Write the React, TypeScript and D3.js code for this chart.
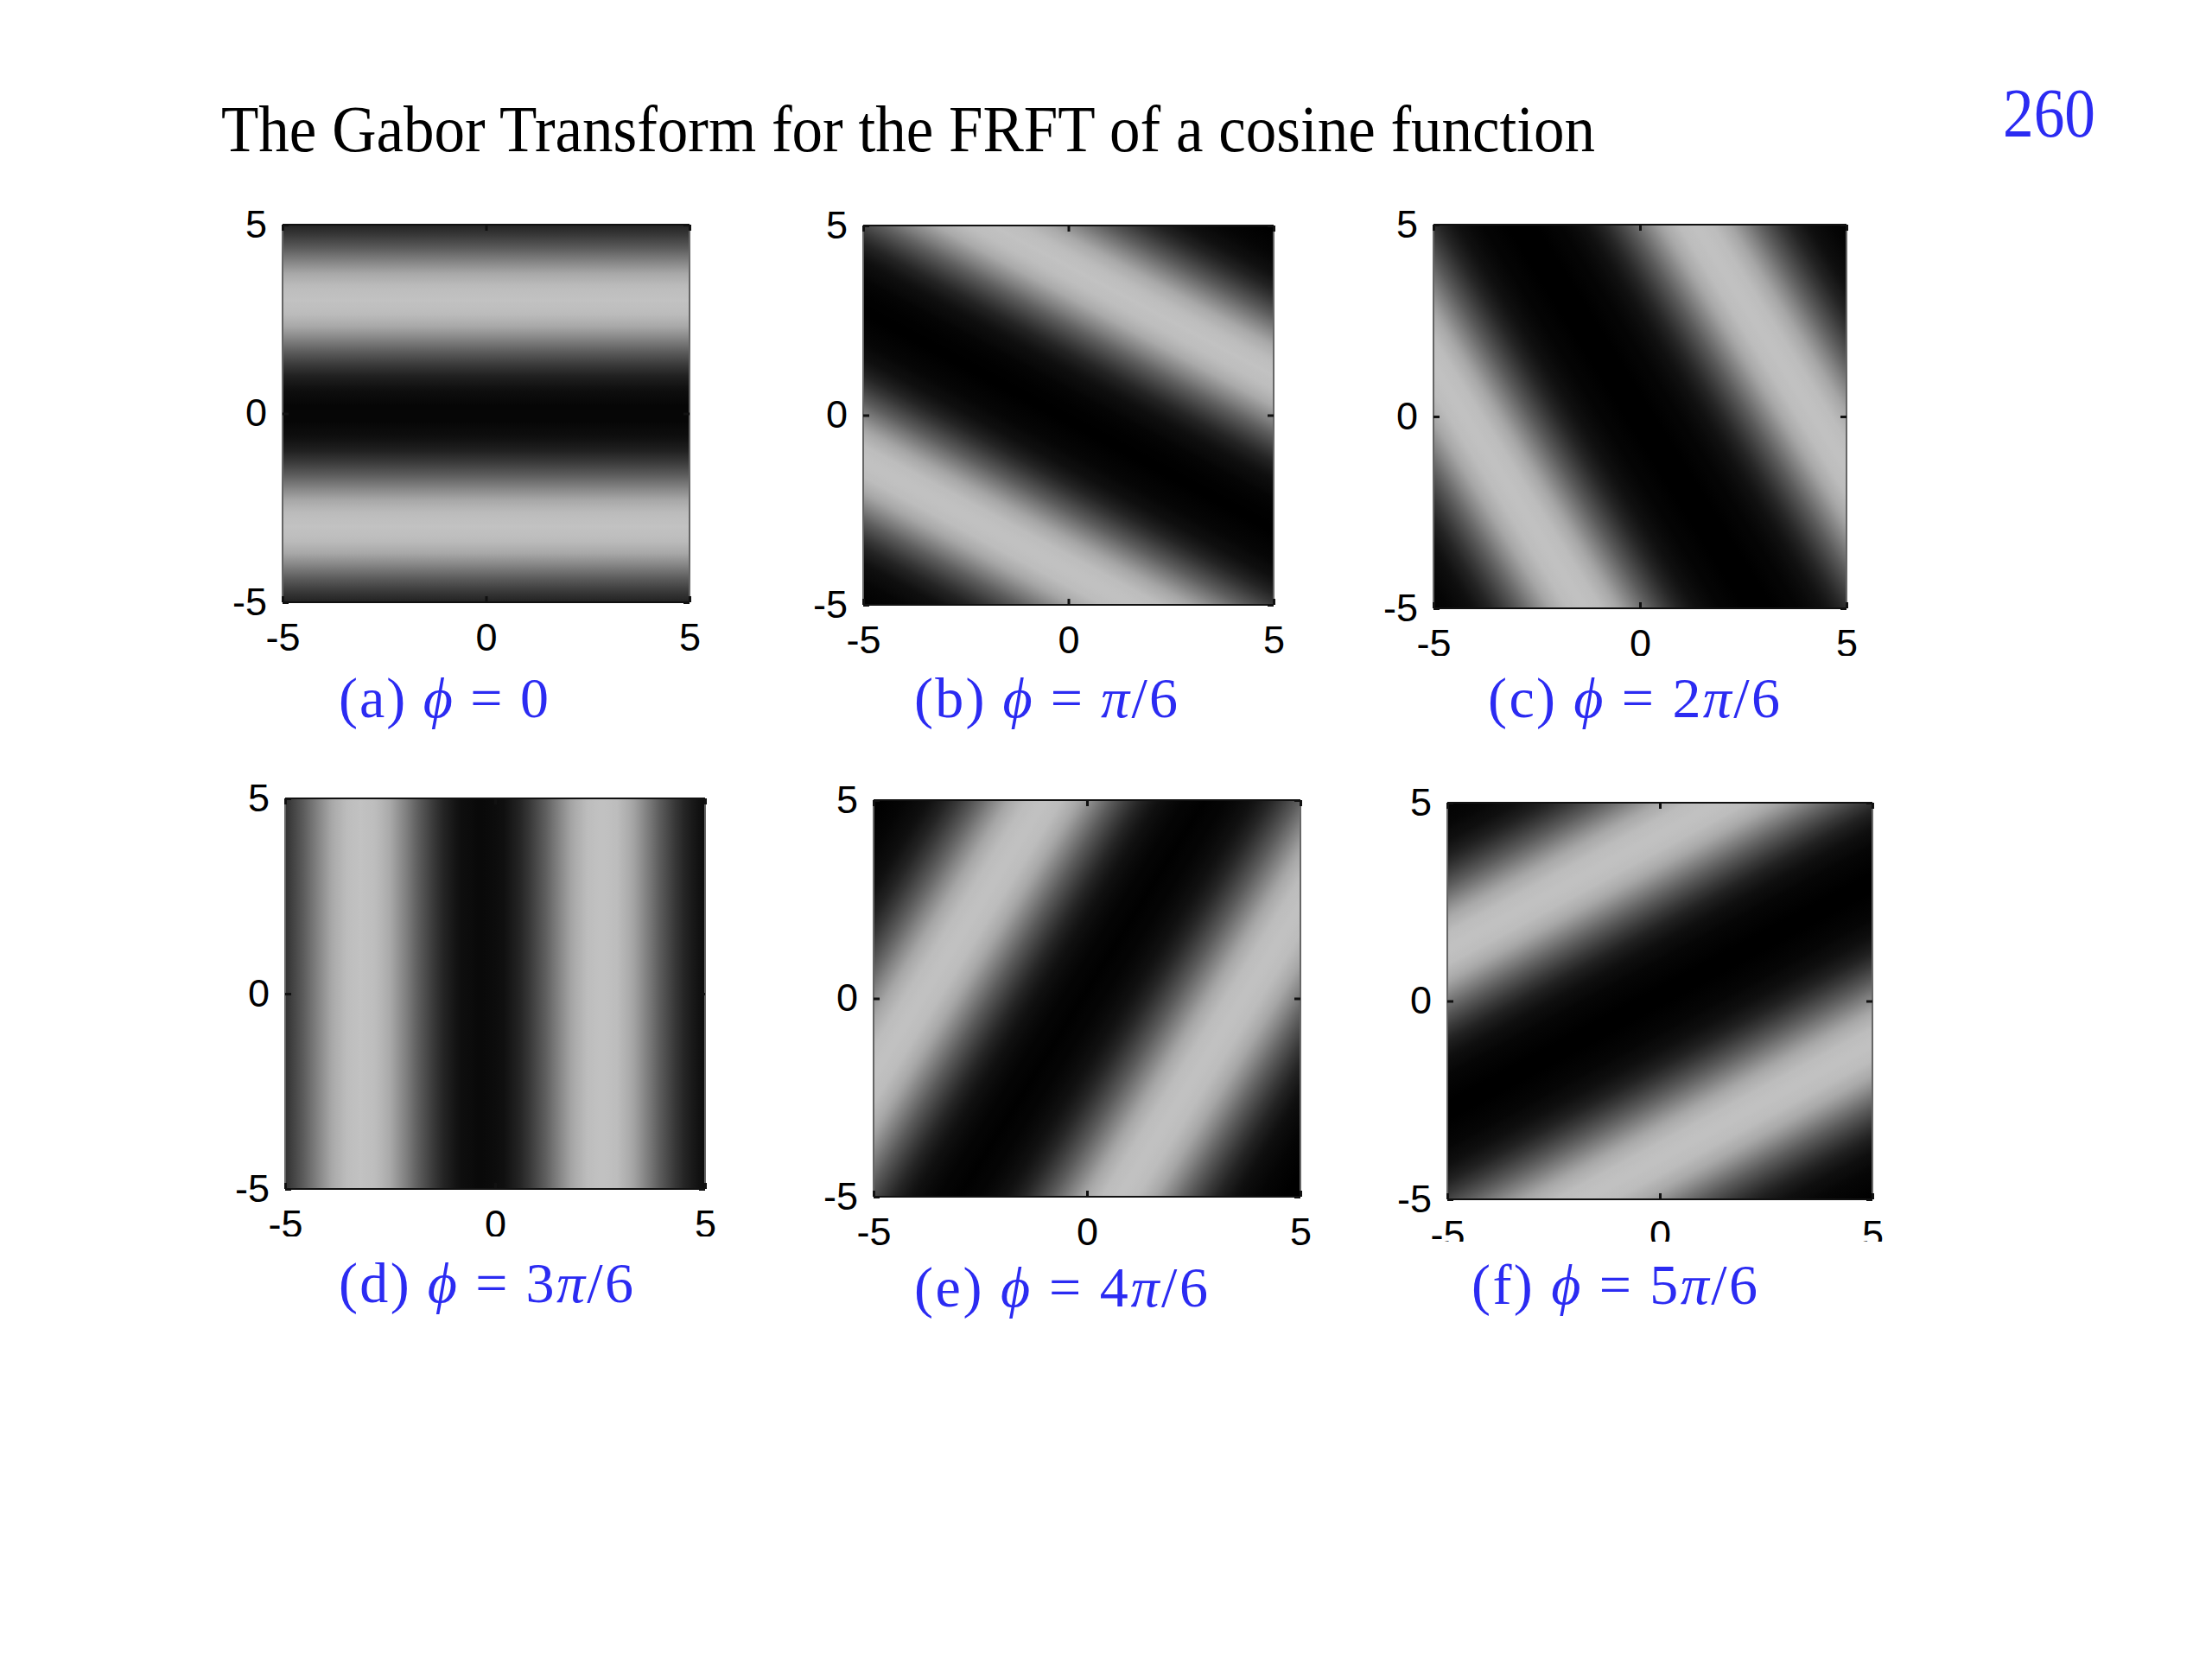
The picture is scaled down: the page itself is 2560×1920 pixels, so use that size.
import React, { useEffect, useRef } from 'react';
import * as d3 from 'd3';

// ---- values ----
const panelTags = ['(a)', '(b)', '(c)', '(d)', '(e)', '(f)'];
const phiSteps = [0, 1, 2, 3, 4, 5]; // phi = k * pi / 6
const phiCoef = ['0', '', '2', '3', '4', '5'];
// distance of the two bright ridges from the centre line, measured along the normal
const ridgeHalfGap = [3.0, 3.47, 3.67, 2.87, 3.27, 3.54];
const ridgeShift = [0, -0.08, 0, -0.32, -0.1, -0.1];
// brightness across one ridge (distance from ridge centre -> grey level)
const bandDist = [0, 0.35, 0.7, 1.0, 1.35, 1.7, 2.0, 2.35, 2.8, 3.35];
const bandLevel = [0.76, 0.74, 0.66, 0.53, 0.37, 0.23, 0.13, 0.06, 0.02, 0];
const tickValues = [-5, 0, 5];
const axisDomain: [number, number] = [-5, 5];

const TITLE = 'The Gabor Transform for the FRFT of a cosine function';
const PAGE = '260';

// ---- layout ----
const BLUE = '#2b2bf2';
const SERIF = "'Liberation Serif', 'Times New Roman', serif";
const SANS = "'Liberation Sans', Arial, sans-serif";

const FRAMES = [
  { x: 327, y: 260, w: 471, h: 437, capX: 392, capY: 830, capW: 243, cover: 759 },
  { x: 999, y: 261, w: 475, h: 439, capX: 1058, capY: 830, capW: 305, cover: 759 },
  { x: 1659, y: 260, w: 478, h: 444, capX: 1722, capY: 830, capW: 338, cover: 759 },
  { x: 330, y: 924, w: 486, h: 452, capX: 392, capY: 1507, capW: 341, cover: 1431 },
  { x: 1011, y: 926, w: 494, h: 459, capX: 1058, capY: 1512, capW: 340, cover: 1441 },
  { x: 1675, y: 929, w: 492, h: 459, capX: 1703, capY: 1509, capW: 331, cover: 1437 },
];

function Panel({ i }: { i: number }) {
  const f = FRAMES[i];
  const axesRef = useRef<SVGGElement>(null);

  const x = d3.scaleLinear().domain(axisDomain).range([0, f.w]);
  const y = d3.scaleLinear().domain(axisDomain).range([f.h, 0]);

  const phi = (phiSteps[i] * Math.PI) / 6;
  const nx = Math.sin(phi);
  const ny = Math.cos(phi);
  const level = d3.scaleLinear().domain(bandDist).range(bandLevel).clamp(true);
  const grey = d3.scaleLinear<string>().domain([0, 1]).range(['#000000', '#ffffff']);
  const ridges = [ridgeShift[i] - ridgeHalfGap[i], ridgeShift[i] + ridgeHalfGap[i]];

  const span = 7.6;
  const stops = d3.range(-span, span + 1e-9, 0.1).map((s) => {
    const g = Math.min(1, d3.sum(ridges, (r) => level(Math.abs(s - r))));
    return { off: (s + span) / (2 * span), col: grey(g) };
  });

  const kx = x(1) - x(0);
  const ky = y(0) - y(1);

  useEffect(() => {
    const g = d3.select(axesRef.current);
    g.selectAll('*').remove();
    const fmt = (d: any) => String(d);
    const none = () => '';

    g.append('g').call(
      d3.axisLeft(y).tickValues(tickValues).tickSizeInner(-7).tickSizeOuter(0).tickPadding(18).tickFormat(fmt)
    );
    g.append('g')
      .attr('transform', `translate(0,${f.h})`)
      .call(d3.axisBottom(x).tickValues(tickValues).tickSizeInner(-7).tickSizeOuter(0).tickPadding(24).tickFormat(fmt));
    g.append('g').call(d3.axisTop(x).tickValues(tickValues).tickSizeInner(-7).tickSizeOuter(0).tickFormat(none));
    g.append('g')
      .attr('transform', `translate(${f.w},0)`)
      .call(d3.axisRight(y).tickValues(tickValues).tickSizeInner(-7).tickSizeOuter(0).tickFormat(none));

    g.selectAll('.domain').remove();
    g.selectAll('g').attr('font-family', SANS).attr('font-size', 45);
    g.selectAll('.tick line').attr('stroke', '#111').attr('stroke-width', 3);
    g.selectAll('.tick text').attr('fill', '#000');
  }, []);

  return (
    <g>
      <defs>
        <linearGradient
          id={`band${i}`}
          gradientUnits="userSpaceOnUse"
          x1={-span * nx}
          y1={-span * ny}
          x2={span * nx}
          y2={span * ny}
        >
          {stops.map((s, k) => (
            <stop key={k} offset={s.off} stopColor={s.col} />
          ))}
        </linearGradient>
      </defs>
      <g transform={`translate(${f.x},${f.y})`}>
        <g transform={`matrix(${kx} 0 0 ${-ky} ${x(0)} ${y(0)})`}>
          <rect x={-5} y={-5} width={10} height={10} fill={`url(#band${i})`} />
        </g>
        <line x1={0} x2={0} y1={0} y2={f.h} stroke="#666" strokeWidth={2} />
        <line x1={f.w} x2={f.w} y1={0} y2={f.h} stroke="#666" strokeWidth={2} />
        <line x1={0} x2={f.w} y1={0} y2={0} stroke="#111" strokeWidth={2} />
        <line x1={0} x2={f.w} y1={f.h} y2={f.h} stroke="#111" strokeWidth={2} />
        <g ref={axesRef} />
      </g>
      <rect x={f.x - 70} y={f.cover} width={f.w + 110} height={f.capY + 30 - f.cover} fill="#fff" />
      <text
        x={f.capX}
        y={f.capY}
        fontFamily={SERIF}
        fontSize={66}
        fill={BLUE}
        textLength={f.capW}
        lengthAdjust="spacing"
      >
        {panelTags[i]}{' '}
        <tspan fontStyle="italic">ϕ</tspan>
        {' = '}
        {phiCoef[i]}
        {phiSteps[i] > 0 && <tspan fontStyle="italic">π</tspan>}
        {phiSteps[i] > 0 && '/6'}
      </text>
    </g>
  );
}

export default function App() {
  return (
    <svg
      width={2560}
      height={1920}
      viewBox="0 0 2560 1920"
      style={{ position: 'absolute', left: 0, top: 0, background: '#fff' }}
    >
      <rect x={0} y={0} width={2560} height={1920} fill="#fff" />
      <text
        x={256}
        y={175}
        fontFamily={SERIF}
        fontSize={76}
        fill="#000"
        textLength={1590}
        lengthAdjust="spacingAndGlyphs"
      >
        {TITLE}
      </text>
      <text
        x={2318}
        y={158}
        fontFamily={SERIF}
        fontSize={80}
        fill={BLUE}
        textLength={107}
        lengthAdjust="spacingAndGlyphs"
      >
        {PAGE}
      </text>
      {panelTags.map((_, i) => (
        <Panel key={i} i={i} />
      ))}
    </svg>
  );
}
